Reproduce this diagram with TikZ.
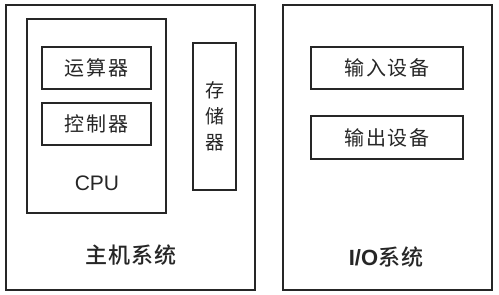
\documentclass[tikz,border=0pt]{standalone}
\usepackage{fontspec}
\setmainfont{Liberation Sans}
\newfontfamily\cjk[LetterSpace=8]{Noto Sans CJK SC}
\newfontfamily\cjkb[LetterSpace=5]{Noto Sans CJK SC Medium}
\begin{document}
\begin{tikzpicture}[x=1pt,y=-1pt,
  box/.style={draw=black!85,line width=2pt,fill=white},
  lbl/.style={font=\cjk\fontsize{20}{22}\selectfont,text=black!85}]
\useasboundingbox (0,0) rectangle (499,295);
\fill[white] (0,0) rectangle (499,295);
% host system
\draw[box] (6,5) rectangle (255,290);
\draw[box] (27,19) rectangle (166,213);
\node[box,minimum width=109pt,minimum height=42pt,inner sep=0pt,lbl] (alu) at (96.5,68) {运算器};
\node[box,minimum width=109pt,minimum height=42pt,inner sep=0pt,lbl] (cu) at (96.5,124) {控制器};
\node[font=\fontsize{21}{24}\selectfont,text=black!85] (cpu) at (97,183) {CPU};
\node[box,minimum width=43pt,minimum height=147pt,inner sep=0pt,lbl,align=center,font=\cjk\fontsize{19}{26}\selectfont] (mem) at (214.5,116.5) {存\\储\\器};
\node[font=\cjkb\fontsize{22}{24}\selectfont,text=black!85] (host) at (131,255) {主机系统};
% I/O system
\draw[box] (283,5) rectangle (492,290);
\node[box,minimum width=152pt,minimum height=42pt,inner sep=0pt,lbl] (in) at (387,68) {输入设备};
\node[box,minimum width=152pt,minimum height=43pt,inner sep=0pt,lbl] (out) at (387,137.5) {输出设备};
\node[font=\fontsize{22}{24}\selectfont,text=black!85] (io) at (386,257) {\textbf{I/O}{\cjkb 系统}};
\end{tikzpicture}
\end{document}
